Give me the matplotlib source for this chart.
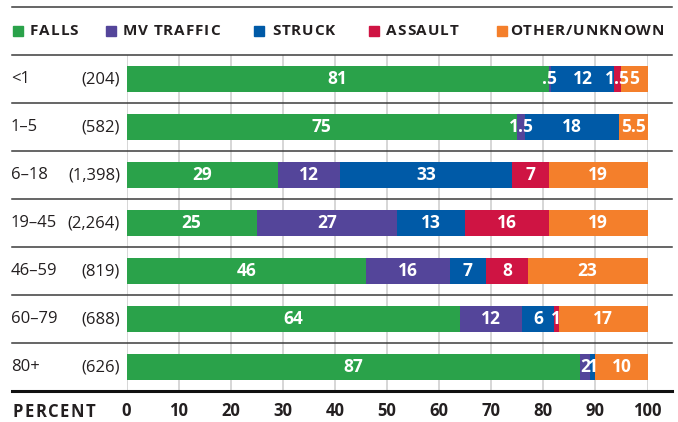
import matplotlib.pyplot as plt
from matplotlib.lines import Line2D
from matplotlib.patches import Rectangle
from matplotlib.transforms import blended_transform_factory

plt.rcParams['font.family'] = ['Open Sans', 'DejaVu Sans']

# data
ages = ['<1', '1–5', '6–18', '19–45', '46–59', '60–79', '80+']
counts = ['(204)', '(582)', '(1,398)', '(2,264)', '(819)', '(688)', '(626)']
categories = ['FALLS', 'MV TRAFFIC', 'STRUCK', 'ASSAULT', 'OTHER/UNKNOWN']
colors = ['#2aa24a', '#54459a', '#005aa7', '#cf1443', '#f47f2b']

falls = [81, 75, 29, 25, 46, 64, 87]
mv_traffic = [0.5, 1.5, 12, 27, 16, 12, 2]
struck = [12, 18, 33, 13, 7, 6, 1]
assault = [1.5, 0, 7, 16, 8, 1, 0]
other = [5, 5.5, 19, 19, 23, 17, 10]
series = [falls, mv_traffic, struck, assault, other]

ticks = list(range(0, 101, 10))

# figure in pixel terms (678 x 422)
W, H = 678, 422
def fx(px):
    return px / W
def fy(py):
    return 1 - py / H

text_color = '#231f20'
fig = plt.figure(figsize=(W / 100, H / 100), dpi=100)
renderer = fig.canvas.get_renderer()

def spaced_text(x, y, s, track, **kw):
    # draw caps text letter by letter with extra tracking (px)
    for ch in s:
        if ch == ' ':
            x += kw.get('fontsize', 11) * 0.3 + track
            continue
        t = fig.text(fx(x), fy(y), ch, ha='left', va='center', **kw)
        x += t.get_window_extent(renderer).width + track

ax = fig.add_axes([fx(126.5), fy(391), 521 / W, 336 / H])
ax.set_xlim(0, 100)
ax.set_ylim(0, len(ages))
for s in ax.spines.values():
    s.set_visible(False)
ax.set_yticks([])

# grid
ax.vlines(ticks, 0, len(ages), color='#d0d0d0', lw=1.2, zorder=0)

# stacked bars
ypos = [len(ages) - 0.5 - i for i in range(len(ages))]
left = [0] * len(ages)
for vals, c in zip(series, colors):
    ax.barh(ypos, vals, left=left, height=0.56, color=c, zorder=2)
    for y, l, v in zip(ypos, left, vals):
        if v > 0:
            lab = '{:g}'.format(v)
            if lab.startswith('0.'):
                lab = lab[1:]
            ax.text(l + v / 2, y, lab, ha='center', va='center', color='white',
                    fontsize=12.5, fontweight='bold', zorder=3)
    left = [a + b for a, b in zip(left, vals)]

# row labels
tr = blended_transform_factory(fig.transFigure, ax.transData)
for y, a, n in zip(ypos, ages, counts):
    ax.text(fx(11), y, a, transform=tr, ha='left', va='center', fontsize=12, color=text_color)
    ax.text(fx(120), y, n, transform=tr, ha='right', va='center', fontsize=12, color=text_color)

# separators
for py in [7] + [55 + 48 * i for i in range(7)]:
    fig.add_artist(Line2D([fx(12), fx(672)], [fy(py), fy(py)], color='#3c3c3c', lw=1.1))
fig.add_artist(Line2D([fx(12), fx(672)], [fy(391), fy(391)], color='#111111', lw=2.2))

# x axis
ax.set_xticks(ticks)
ax.set_xticklabels([str(t) for t in ticks], fontsize=12, fontweight='bold', color=text_color)
ax.tick_params(axis='x', length=0, pad=14.5)
for lab in ax.get_xticklabels():
    lab.set_va('center')
spaced_text(12, 412, 'PERCENT', 1.7, fontsize=12, fontweight='bold', color=text_color)

# legend
sq_x = [13, 106, 254, 369, 497]
txt_x = [30, 123, 272, 386, 510]
for sx, tx, cat, c in zip(sq_x, txt_x, categories, colors):
    fig.add_artist(Rectangle((fx(sx), fy(36)), 10 / W, 10 / H, color=c, transform=fig.transFigure))
    spaced_text(tx, 31, cat, 0.9, fontsize=11, fontweight='bold', color=text_color)

fig.savefig('out.png', dpi=100)
